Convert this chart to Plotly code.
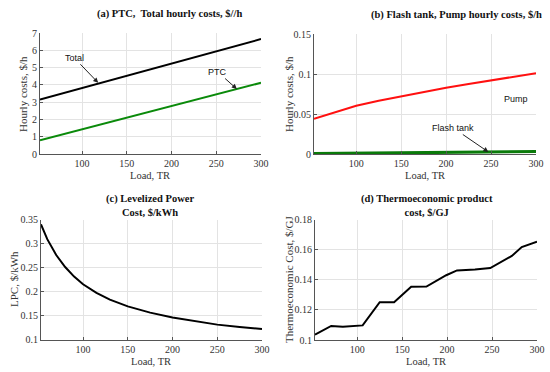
import plotly.graph_objects as go

# ---------------- data ----------------
load_ab = [53, 300]
total_cost = [3.15, 6.65]
ptc_cost = [0.80, 4.12]

load_pump = [53, 75, 100, 125, 150, 175, 200, 225, 250, 275, 300]
pump_cost = [0.044, 0.052, 0.0602, 0.0665, 0.0722, 0.0776, 0.0828, 0.0875, 0.0920, 0.0963, 0.1010]
flash_cost = [0.0005, 0.0007, 0.0009, 0.0011, 0.0013, 0.0015, 0.0018, 0.0021, 0.0024, 0.0027, 0.0030]

load_lpc = [53, 60, 70, 80, 90, 100, 115, 130, 150, 175, 200, 225, 250, 275, 300]
lpc = [0.340, 0.309, 0.276, 0.251, 0.231, 0.215, 0.197, 0.183, 0.169, 0.156, 0.146, 0.138, 0.131, 0.126, 0.122]

load_te = [53, 71, 84, 106, 125, 141, 160, 177, 199, 211, 231, 248, 272, 283, 300]
te_cost = [0.1035, 0.1093, 0.1088, 0.1097, 0.1251, 0.1251, 0.1353, 0.1355, 0.1430, 0.1462, 0.1468, 0.1478, 0.1558, 0.1617, 0.1652]

titles = ["(a) PTC,  Total hourly costs, $//h",
          "(b) Flash tank, Pump hourly costs, $/h",
          "(c) Levelized Power<br>Cost, $/kWh",
          "(d) Thermoeconomic product<br>cost, $/GJ"]

SERIF = "Liberation Serif"
SANS = "Liberation Sans"
W, H = 550, 372

fig = go.Figure()
fig.add_trace(go.Scatter(x=load_ab, y=total_cost, mode="lines", line=dict(color="black", width=2), xaxis="x", yaxis="y"))
fig.add_trace(go.Scatter(x=load_ab, y=ptc_cost, mode="lines", line=dict(color="#0a8a0a", width=2), xaxis="x", yaxis="y"))
fig.add_trace(go.Scatter(x=load_pump, y=pump_cost, mode="lines", line=dict(color="#ff1010", width=2), xaxis="x2", yaxis="y2"))
fig.add_trace(go.Scatter(x=load_pump, y=flash_cost, mode="lines", line=dict(color="#0a7a0a", width=3), xaxis="x2", yaxis="y2"))
fig.add_trace(go.Scatter(x=load_lpc, y=lpc, mode="lines", line=dict(color="black", width=2), xaxis="x3", yaxis="y3"))
fig.add_trace(go.Scatter(x=load_te, y=te_cost, mode="lines", line=dict(color="black", width=2), xaxis="x4", yaxis="y4"))

def px_x(p):
    return p / W

def px_y(p):
    return 1 - p / H

axcommon = dict(showgrid=True, gridcolor="#e3e3e3", gridwidth=1, showline=True, linecolor="#555555",
                linewidth=1, ticks="inside", ticklen=3, tickcolor="#555555", zeroline=False,
                automargin=False,
                tickfont=dict(family=SERIF, size=10, color="#333333"))

xticks = [100, 150, 200, 250, 300]
dom = {
    "a": ([px_x(40), px_x(261)], [px_y(154), px_y(33)]),
    "b": ([px_x(314), px_x(536)], [px_y(154), px_y(34)]),
    "c": ([px_x(41), px_x(262)], [px_y(339.5), px_y(219.5)]),
    "d": ([px_x(315), px_x(537)], [px_y(340), px_y(219.5)]),
}

fig.update_layout(
    template="none",
    width=W, height=H, margin=dict(l=0, r=0, t=0, b=0, autoexpand=False),
    paper_bgcolor="white", plot_bgcolor="white", showlegend=False,
    xaxis=dict(domain=dom["a"][0], range=[53, 300], tickvals=xticks, anchor="y", **axcommon),
    yaxis=dict(domain=dom["a"][1], range=[0, 7], dtick=1, anchor="x", **axcommon),
    xaxis2=dict(domain=dom["b"][0], range=[53, 300], tickvals=xticks, anchor="y2", **axcommon),
    yaxis2=dict(domain=dom["b"][1], range=[0, 0.15], tickvals=[0, 0.05, 0.1, 0.15],
                ticktext=["0", "0.05", "0.1", "0.15"], anchor="x2", **axcommon),
    xaxis3=dict(domain=dom["c"][0], range=[53, 300], tickvals=xticks, anchor="y3", **axcommon),
    yaxis3=dict(domain=dom["c"][1], range=[0.1, 0.35], tickvals=[0.1, 0.15, 0.2, 0.25, 0.3, 0.35],
                ticktext=["0.1", "0.15", "0.2", "0.25", "0.3", "0.35"], anchor="x3", **axcommon),
    xaxis4=dict(domain=dom["d"][0], range=[53, 300], tickvals=xticks, anchor="y4", **axcommon),
    yaxis4=dict(domain=dom["d"][1], range=[0.1, 0.18], tickvals=[0.1, 0.12, 0.14, 0.16, 0.18],
                ticktext=["0.1", "0.12", "0.14", "0.16", "0.18"], anchor="x4", **axcommon),
)

ann = []
# titles
title_pos = [(169, 14), (456, 15), (150, 206), (427, 206)]
for t, (cx, cy) in zip(titles, title_pos):
    ann.append(dict(text="<b>" + t + "</b>", x=px_x(cx), y=px_y(cy), xref="paper", yref="paper",
                    showarrow=False, xanchor="center", yanchor="middle",
                    font=dict(family=SERIF, size=10.5, color="#111111")))
# x axis titles
for cx, cy in [(150, 175), (425, 175), (151, 361), (426, 361)]:
    ann.append(dict(text="Load, TR", x=px_x(cx), y=px_y(cy), xref="paper", yref="paper",
                    showarrow=False, xanchor="center", yanchor="middle",
                    font=dict(family=SERIF, size=10.5, color="#333333")))
# y axis titles
for txt, cx, cy in [("Hourly costs, $/h", 23, 94), ("Hourly costs, $/h", 289, 94),
                    ("LPC, $/kWh", 14, 279), ("Thermoeconomic Cost, $/GJ", 289, 279)]:
    ann.append(dict(text=txt, x=px_x(cx), y=px_y(cy), xref="paper", yref="paper", textangle=-90,
                    showarrow=False, xanchor="center", yanchor="middle",
                    font=dict(family=SERIF, size=11, color="#333333")))
# arrow labels
arrow_style = dict(showarrow=True, arrowhead=2, arrowsize=1, arrowwidth=1, arrowcolor="#222222",
                   font=dict(family=SANS, size=9, color="#111111"))
ann.append(dict(text="Total", x=118, y=4.12, xref="x", yref="y", ax=-24, ay=-25, **arrow_style))
ann.append(dict(text="PTC", x=273, y=3.76, xref="x", yref="y", ax=-19, ay=-17, **arrow_style))
ann.append(dict(text="Pump", x=249, y=0.092, xref="x2", yref="y2", ax=26, ay=19, **arrow_style))
ann.append(dict(text="Flash tank", x=247, y=0.0025, xref="x2", yref="y2", ax=-35, ay=-24, **arrow_style))

fig.update_layout(annotations=ann)
fig.write_html("out.html", config={"displayModeBar": False},
               post_script="document.body.style.margin='0px';document.body.style.overflow='hidden';")
